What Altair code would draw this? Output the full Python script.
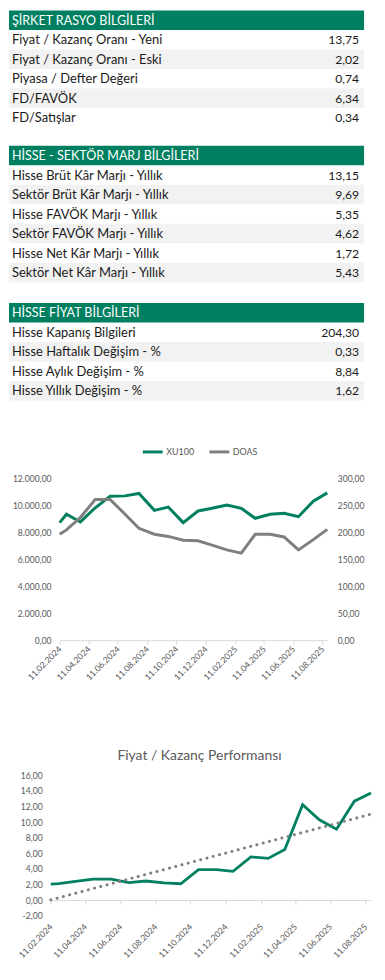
import altair as alt
import pandas as pd

GREEN = "#008060"
LINE_GRAY = "#7f7f7f"
AX = "#595959"
ROW_GRAY = "#f2f2f2"
FONT = "Lato"

# ---------------- data ----------------
t1_title = "ŞİRKET RASYO BİLGİLERİ"
t1_labels = ["Fiyat / Kazanç Oranı - Yeni", "Fiyat / Kazanç Oranı - Eski",
             "Piyasa / Defter Değeri", "FD/FAVÖK", "FD/Satışlar"]
t1_values = [13.75, 2.02, 0.74, 6.34, 0.34]

t2_title = "HİSSE - SEKTÖR MARJ BİLGİLERİ"
t2_labels = ["Hisse Brüt Kâr Marjı - Yıllık", "Sektör Brüt Kâr Marjı - Yıllık",
             "Hisse FAVÖK Marjı - Yıllık", "Sektör FAVÖK Marjı - Yıllık",
             "Hisse Net Kâr Marjı - Yıllık", "Sektör Net Kâr Marjı - Yıllık"]
t2_values = [13.15, 9.69, 5.35, 4.62, 1.72, 5.43]

t3_title = "HİSSE FİYAT BİLGİLERİ"
t3_labels = ["Hisse Kapanış Bilgileri", "Hisse Haftalık Değişim - %",
             "Hisse Aylık Değişim - %", "Hisse Yıllık Değişim - %"]
t3_values = [204.30, 0.33, 8.84, 1.62]

dates = ["2024-02-11", "2024-02-25", "2024-03-25", "2024-04-25", "2024-05-26",
         "2024-06-26", "2024-07-25", "2024-08-26", "2024-09-24", "2024-10-25",
         "2024-11-25", "2024-12-24", "2025-01-24", "2025-02-23", "2025-03-24",
         "2025-04-24", "2025-05-23", "2025-06-22", "2025-07-23", "2025-08-21"]
xu100 = [8700, 9320, 8750, 9800, 10660, 10680, 10860, 9610, 9850, 8700,
         9560, 9760, 10000, 9760, 9020, 9320, 9390, 9140, 10290, 10900]
doas = [196, 204, 227, 260.5, 260.5, 233, 207, 196, 192, 185,
        184, 176, 167, 161, 196, 196, 191, 167, 186, 205]
pe = [2.05, 2.1, 2.4, 2.7, 2.7, 2.25, 2.45, 2.2, 2.1, 3.9,
      3.9, 3.7, 5.55, 5.35, 6.5, 12.25, 10.3, 9.1, 12.7, 13.75]

tick_labels = ["11.02.2024", "11.04.2024", "11.06.2024", "11.08.2024", "11.10.2024",
               "11.12.2024", "11.02.2025", "11.04.2025", "11.06.2025", "11.08.2025"]
left_ticks = [0, 2000, 4000, 6000, 8000, 10000, 12000]
right_ticks = [0, 50, 100, 150, 200, 250, 300]
pe_ticks = [-2, 0, 2, 4, 6, 8, 10, 12, 14, 16]

tick_dt = [alt.DateTime(year=int(s[6:]), month=int(s[3:5]), date=int(s[:2])) for s in tick_labels]

# ---------------- tables ----------------
TW = 357
TFS = 13.0
HFS = 12.6
VFS = 12.2


def table(title, labels, values):
    df = pd.DataFrame({"i": list(range(len(labels) + 1)),
                       "label": [title] + labels,
                       "v": [0.0] + values})
    base = alt.Chart(df).encode(
        y=alt.Y("i:O", axis=None, scale=alt.Scale(paddingInner=0, paddingOuter=0))
    )
    head = base.transform_filter("datum.i == 0").mark_rect(color=GREEN).encode(
        x=alt.value(0), x2=alt.value(TW))
    stripe = base.transform_filter("datum.i > 0 && datum.i % 2 == 0").mark_rect(color=ROW_GRAY).encode(
        x=alt.value(0), x2=alt.value(TW))
    head_txt = base.transform_filter("datum.i == 0").mark_text(
        align="left", baseline="middle", color="white", fontSize=HFS, font=FONT, dy=0.5
    ).encode(x=alt.value(3), text="label:N")
    lab_txt = base.transform_filter("datum.i > 0").mark_text(
        align="left", baseline="middle", color="#1a1a1a", fontSize=TFS, font=FONT, dy=0.5
    ).encode(x=alt.value(3), text="label:N")
    val_txt = base.transform_filter("datum.i > 0").mark_text(
        align="right", baseline="middle", color="#1a1a1a", fontSize=VFS, font=FONT, dy=0.5
    ).encode(x=alt.value(TW - 5), text=alt.Text("v:Q", format=",.2f"))
    return alt.layer(head, stripe, head_txt, lab_txt, val_txt).properties(
        width=TW, height=alt.Step(19.6))


def spacer(w, h):
    return alt.Chart(pd.DataFrame({"s": [0]})).mark_point(opacity=0, size=1).encode(
        x=alt.value(0.5), y=alt.value(0.5)).properties(width=w, height=h)


tab1 = table(t1_title, t1_labels, t1_values)
tab2 = table(t2_title, t2_labels, t2_values)
tab3 = table(t3_title, t3_labels, t3_values)

# ---------------- chart 1: XU100 vs DOAS ----------------
df1 = pd.DataFrame({"date": pd.to_datetime(dates), "XU100": xu100, "DOAS": doas})
AFS = 8.6


def x_axis(**kw):
    return alt.Axis(values=tick_dt, format="%d.%m.%Y", labelAngle=-45, labelAlign="right",
                    labelBaseline="middle", labelFontSize=AFS, labelColor=AX, labelFont=FONT,
                    domainColor="#d9d9d9", tickColor="#d9d9d9", tickSize=4, grid=False,
                    labelOverlap=False, labelBound=False, title=None, **kw)


color = alt.Color("series:N",
                  scale=alt.Scale(domain=["XU100", "DOAS"], range=[GREEN, LINE_GRAY]),
                  legend=alt.Legend(title=None, orient="none", legendX=82, legendY=-38,
                                    direction="horizontal", symbolType="stroke", symbolSize=400,
                                    symbolStrokeWidth=3, labelFontSize=9, labelColor=AX,
                                    labelFont=FONT, columnPadding=8, labelOffset=2, padding=0))

X1 = alt.X("date:T", title=None, scale=alt.Scale(nice=False), axis=x_axis(labelPadding=3))

l_xu = alt.Chart(df1).transform_calculate(series="'XU100'").mark_line(strokeWidth=3).encode(
    x=X1,
    y=alt.Y("XU100:Q", title=None, scale=alt.Scale(domain=[0, 12000], nice=False),
            axis=alt.Axis(orient="left", values=left_ticks, format=",.2f", grid=False,
                          domain=False, ticks=False, labelPadding=8.7, minExtent=49.7,
                          labelFontSize=AFS, labelColor=AX, labelFont=FONT)),
    color=color)
l_doas = alt.Chart(df1).transform_calculate(series="'DOAS'").mark_line(strokeWidth=3).encode(
    x=X1,
    y=alt.Y("DOAS:Q", title=None, scale=alt.Scale(domain=[0, 300], nice=False),
            axis=alt.Axis(orient="right", values=right_ticks, format=",.2f", grid=False,
                          domain=False, ticks=False, labelPadding=10,
                          labelFontSize=AFS, labelColor=AX, labelFont=FONT)),
    color=color)
chart1 = alt.layer(l_xu, l_doas).resolve_scale(y="independent").properties(width=269, height=163)

# ---------------- chart 2: P/E performance ----------------
df2 = pd.DataFrame({"date": pd.to_datetime(dates), "pe": pe})
H2 = 141
X2 = alt.X("date:T", title=None, scale=alt.Scale(nice=False),
           axis=x_axis(offset=-H2 * 2 / 18, labelPadding=21))
Y2 = alt.Y("pe:Q", title=None, scale=alt.Scale(domain=[-2, 16], nice=False),
           axis=alt.Axis(values=pe_ticks, format=",.2f", grid=False, domain=False, ticks=False,
                         labelPadding=8.7, minExtent=41, labelFontSize=AFS, labelColor=AX,
                         labelFont=FONT))
pe_line = alt.Chart(df2).mark_line(color=GREEN, strokeWidth=2.8).encode(x=X2, y=Y2)
trend = alt.Chart(df2).transform_calculate(date="toDate(datum.date)").transform_regression(
    "date", "pe").mark_line(color=LINE_GRAY, strokeWidth=3, strokeDash=[0.1, 6.4],
                           strokeCap="round").encode(x=X2, y=Y2)
chart2 = alt.layer(pe_line, trend).properties(
    width=322, height=H2,
    title=alt.TitleParams("Fiyat / Kazanç Performansı", fontSize=14, color=AX, font=FONT,
                          fontWeight="normal", anchor="middle", frame="bounds", offset=9, dx=6))

row1 = alt.hconcat(spacer(1, 1), chart1, spacing=0).resolve_scale(color="independent")
row2 = alt.hconcat(spacer(1, 1), chart2, spacing=0).resolve_scale(color="independent")

# ---------------- layout ----------------
chart = alt.concat(
    tab1, spacer(1, 18), tab2, spacer(1, 20), tab3, spacer(1, 40), row1, spacer(1, 67), row2,
    columns=1, spacing=0
).resolve_scale(color="independent").properties(
    padding={"left": 1, "top": 0, "right": 0, "bottom": 2}
).configure(
    font=FONT,
    locale={"number": {"decimal": ",", "thousands": ".", "grouping": [3],
                       "currency": ["", " TL"], "minus": "-"}}
).configure_view(stroke=None)

chart.save("out.html", embed_options={"renderer": "svg", "actions": False})
